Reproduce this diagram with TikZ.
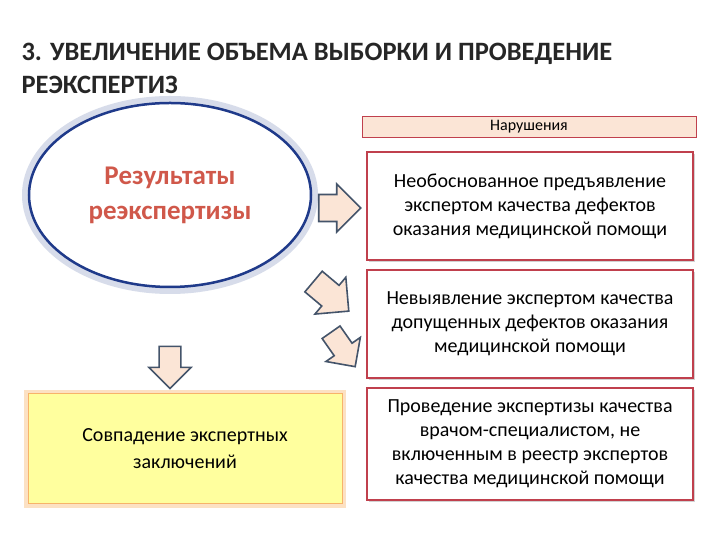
\documentclass[tikz,border=0pt]{standalone}
\usepackage{fontspec}
\setmainfont{Carlito}
\usetikzlibrary{shapes.arrows,shapes.geometric,shadows}
\definecolor{peach}{HTML}{FBE5D6}
\definecolor{arrline}{HTML}{44546A}
\definecolor{redb}{HTML}{C0404D}
\definecolor{elblue}{HTML}{1F3A8A}
\definecolor{eltext}{HTML}{D0584A}
\definecolor{yel}{HTML}{FFFF9E}
\definecolor{orb}{HTML}{F7B36A}
\tikzset{
 x=1pt,y=1pt,
 blk/.style={single arrow,draw=arrline,line width=1.6pt,fill=peach,minimum height=42pt,minimum width=48pt,single arrow head extend=10pt,inner xsep=0pt,inner ysep=12pt},
 redbox/.style={draw=redb,line width=1.6pt,fill=white,minimum width=326pt,minimum height=108pt,align=center,font=\fontsize{20}{24}\selectfont,drop shadow={opacity=0.35,shadow xshift=2pt,shadow yshift=-2pt}},
}
\begin{document}
\begin{tikzpicture}
\useasboundingbox[fill=white] (0,0) rectangle (720,540);
\node[anchor=west,align=left,font=\fontsize{26.5}{33}\selectfont\bfseries,text=black!85] (title) at (18,472) {3. УВЕЛИЧЕНИЕ ОБЪЕМА ВЫБОРКИ И ПРОВЕДЕНИЕ\\РЕЭКСПЕРТИЗ};
\node[draw=redb,line width=0.8pt,fill=peach,minimum width=334pt,minimum height=21pt,font=\fontsize{16}{18}\selectfont] (nar) at (529,413.5) {Нарушения};
\node[redbox] (b1) at (530,334) {Необоснованное предъявление\\экспертом качества  дефектов\\оказания медицинской помощи};
\node[redbox] (b2) at (530,216) {Невыявление  экспертом качества\\допущенных дефектов оказания\\медицинской помощи};
\node[redbox,minimum height=112pt] (b3) at (530,96) {Проведение  экспертизы качества\\врачом-специалистом, не\\включенным в  реестр экспертов\\качества медицинской помощи};
\node[ellipse,draw=elblue!18,line width=8pt,minimum width=288pt,minimum height=190pt] (glow) at (170,345) {};
\node[ellipse,draw=elblue,line width=2.5pt,minimum width=282pt,minimum height=184pt,align=center,font=\fontsize{27}{35}\selectfont\bfseries,text=eltext] (el) at (170,345) {Результаты\\реэкспертизы};
\node[draw=orb!40,line width=4pt,minimum width=318pt,minimum height=114pt] (yglow) at (185,91) {};
\node[draw=orb,line width=1pt,fill=yel,minimum width=314pt,minimum height=110pt,align=center,font=\fontsize{20}{27}\selectfont] (y) at (185,91) {Совпадение экспертных\\заключений};
\node[blk] (a1) at (333,332) {};
\node[blk,rotate=-40,minimum height=46pt] (a2) at (326,248) {};
\node[blk,rotate=-55,minimum height=42pt,minimum width=42pt,inner ysep=10pt] (a3) at (340,195) {};
\node[blk,rotate=-90,minimum height=42pt,minimum width=42pt,inner ysep=10pt] (a4) at (170,178) {};
\end{tikzpicture}
\end{document}
